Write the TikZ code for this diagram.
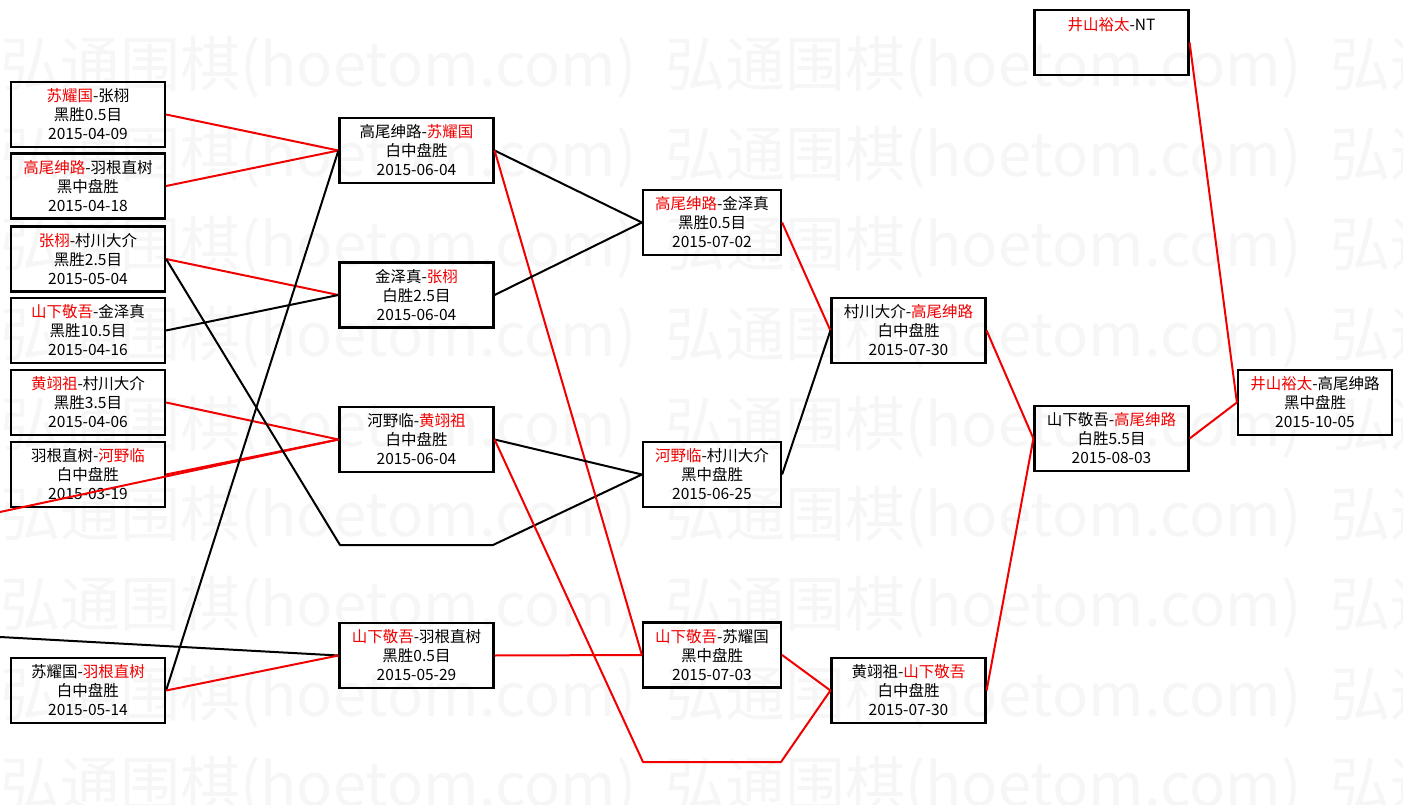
\documentclass[tikz,border=0pt]{standalone}
\usepackage{fontspec}
\setmainfont{Noto Sans CJK SC}
\usetikzlibrary{positioning}
\definecolor{winred}{HTML}{F00000}
\definecolor{markgray}{gray}{0.965}
\newcommand{\win}[1]{\textcolor{winred}{#1}}
\tikzset{
  gamebox/.style   = {draw=black, line width=2.2pt, minimum width=154pt,
                      minimum height=65pt, inner sep=0pt, align=center,
                      font=\fontsize{15.5}{19}\selectfont},
  narrowbox/.style = {gamebox, minimum width=138pt},
  winline/.style   = {draw=winred, line width=2pt, line join=round},
  loseline/.style  = {draw=black, line width=2pt, line join=round},
  wmark/.style     = {anchor=west, text=markgray, inner sep=0pt,
                      font=\fontsize{60}{60}\selectfont},
}

\begin{document}
\begin{tikzpicture}[x=1pt, y=-1pt]
  \useasboundingbox (0,0) rectangle (1403,805);
  % watermark
  \foreach \r in {0,...,8}
    \foreach \c in {0,665,1330}
      \node[wmark] at (\c,67+90*\r) {弘通围棋(hoetom.com)};
  % first column
  \node[gamebox] (b1) at (88,114.5) {\win{苏耀国}-张栩\\黑胜0.5目\\2015-04-09};
  \node[gamebox] (b2) at (88,186) {\win{高尾绅路}-羽根直树\\黑中盘胜\\2015-04-18};
  \node[gamebox] (b3) at (88,259) {\win{张栩}-村川大介\\黑胜2.5目\\2015-05-04};
  \node[gamebox] (b4) at (88,330.5) {\win{山下敬吾}-金泽真\\黑胜10.5目\\2015-04-16};
  \node[gamebox] (b5) at (88,402.5) {\win{黄翊祖}-村川大介\\黑胜3.5目\\2015-04-06};
  \node[gamebox] (b6) at (88,474.5) {羽根直树-\win{河野临}\\白中盘胜\\2015-03-19};
  \node[gamebox] (b7) at (88,690.5) {苏耀国-\win{羽根直树}\\白中盘胜\\2015-05-14};
  % second column
  \node[gamebox] (c1) at (416.5,150.5) {高尾绅路-\win{苏耀国}\\白中盘胜\\2015-06-04};
  \node[gamebox] (c2) at (416.5,295) {金泽真-\win{张栩}\\白胜2.5目\\2015-06-04};
  \node[gamebox] (c3) at (416.5,439.5) {河野临-\win{黄翊祖}\\白中盘胜\\2015-06-04};
  \node[gamebox] (c4) at (416.5,655.5) {\win{山下敬吾}-羽根直树\\黑胜0.5目\\2015-05-29};
  % third column
  \node[narrowbox] (d1) at (712,222.5) {\win{高尾绅路}-金泽真\\黑胜0.5目\\2015-07-02};
  \node[narrowbox] (d2) at (712,474.5) {\win{河野临}-村川大介\\黑中盘胜\\2015-06-25};
  \node[narrowbox] (d3) at (712,655) {\win{山下敬吾}-苏耀国\\黑中盘胜\\2015-07-03};
  % fourth column
  \node[gamebox] (e1) at (908.5,330.5) {村川大介-\win{高尾绅路}\\白中盘胜\\2015-07-30};
  \node[gamebox] (e2) at (908.5,690.5) {黄翊祖-\win{山下敬吾}\\白中盘胜\\2015-07-30};
  % fifth and last column
  \node[gamebox] (f1) at (1111.5,42.5) {\win{井山裕太}-NT\\\mbox{}\\\mbox{}};
  \node[gamebox] (f2) at (1111.5,438.5) {山下敬吾-\win{高尾绅路}\\白胜5.5目\\2015-08-03};
  \node[gamebox] (g1) at (1315,402.5) {\win{井山裕太}-高尾绅路\\黑中盘胜\\2015-10-05};
  % free ends and bends
  \coordinate (inA) at (0,512);
  \coordinate (inB) at (0,637);
  \coordinate (dropA) at (340,545);
  \coordinate (dropB) at (493,545);
  \coordinate (dropC) at (643,762);
  \coordinate (dropD) at (781,762);
  % connectors
  \draw[winline] (b1.east) -- (c1.west);
  \draw[winline] (b2.east) -- (c1.west);
  \draw[winline] (b3.east) -- (c2.west);
  \draw[loseline] (b4.east) -- (c2.west);
  \draw[winline] (b5.east) -- (c3.west);
  \draw[winline] (b6.east) -- (c3.west);
  \draw[winline] (inA) -- (c3.west);
  \draw[loseline] (inB) -- (c4.west);
  \draw[loseline] (b7.east) -- (c1.west);
  \draw[winline] (b7.east) -- (c4.west);
  \draw[loseline] (b3.east) -- (dropA) -- (dropB) -- (d2.west);
  \draw[loseline] (c1.east) -- (d1.west);
  \draw[winline] (c1.east) -- (d3.west);
  \draw[loseline] (c2.east) -- (d1.west);
  \draw[loseline] (c3.east) -- (d2.west);
  \draw[winline] (c3.east) -- (dropC) -- (dropD) -- (e2.west);
  \draw[winline] (c4.east) -- (d3.west);
  \draw[winline] (d1.east) -- (e1.west);
  \draw[loseline] (d2.east) -- (e1.west);
  \draw[winline] (d3.east) -- (e2.west);
  \draw[winline] (e1.east) -- (f2.west);
  \draw[winline] (e2.east) -- (f2.west);
  \draw[winline] (f2.east) -- (g1.west);
  \draw[winline] (f1.east) -- (g1.west);
\end{tikzpicture}
\end{document}
